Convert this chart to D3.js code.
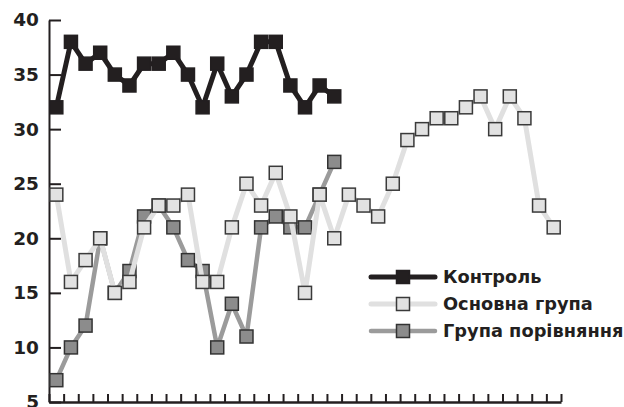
<!DOCTYPE html>
<html>
<head>
<meta charset="utf-8">
<script src="https://cdn.jsdelivr.net/npm/d3@7"></script>
<style>
  body { margin: 0; background: #fff; }
  svg { display: block; }
</style>
</head>
<body>
<div id="chart"></div>
<script>
// values, one per band
const seriesNames = ["Контроль", "Основна група", "Група порівняння"];
const control = [32, 38, 36, 37, 35, 34, 36, 36, 37, 35, 32, 36, 33, 35, 38, 38, 34, 32, 34, 33];
const mainGroup = [24, 16, 18, 20, 15, 16, 21, 23, 23, 24, 16, 16, 21, 25, 23, 26, 22, 15, 24, 20,
                   24, 23, 22, 25, 29, 30, 31, 31, 32, 33, 30, 33, 31, 23, 21];
const compGroup = [7, 10, 12, 20, 15, 17, 22, 23, 21, 18, 17, 10, 14, 11, 21, 22, 21, 21, 24, 27];
const yTicks = [5, 10, 15, 20, 25, 30, 35, 40];
const nBands = 35;

(function chart(){
    let width = 624, height = 407,
        margin = ({ top: 20, right: 63, bottom: 5, left: 49 });

    const svg = d3.select("#chart")
        .append("svg")
        .attr("width", width)
        .attr("height", height);

    // band edges -> x, points sit at the middle of a band
    const x = d3.scaleLinear()
        .domain([0, nBands])
        .range([margin.left, width - margin.right]);

    const y = d3.scaleLinear()
        .domain([5, 40])
        .range([height - margin.bottom, margin.top]);

    // y axis, ticks point inward
    const yAxis = svg.append("g")
        .attr("transform", `translate(${margin.left},0)`)
        .call(d3.axisLeft(y).tickValues(yTicks).tickSizeInner(-12).tickSizeOuter(0).tickPadding(10));
    yAxis.select(".domain").attr("stroke", "#231f20").attr("stroke-width", 2);
    yAxis.selectAll(".tick line").attr("stroke", "#231f20").attr("stroke-width", 2);
    yAxis.selectAll(".tick text")
        .attr("fill", "#231f20")
        .style("font-family", "'DejaVu Sans', sans-serif")
        .style("font-weight", "bold")
        .style("font-size", "18.5px");

    // x axis, small ticks on every band edge
    const xAxis = svg.append("g")
        .attr("transform", `translate(0,${height - margin.bottom})`)
        .call(d3.axisBottom(x).tickValues(d3.range(nBands + 1)).tickFormat("").tickSizeInner(-8).tickSizeOuter(0));
    xAxis.select(".domain").attr("stroke", "#231f20").attr("stroke-width", 2.5);
    xAxis.selectAll(".tick line").attr("stroke", "#231f20").attr("stroke-width", 2);

    const series = [
        { name: seriesNames[2], values: compGroup, line: "#9b9b9b", fill: "#8c8c8c", stroke: "#333", lw: 4.5, size: 13 },
        { name: seriesNames[1], values: mainGroup, line: "#e0e0e0", fill: "#e2e2e2", stroke: "#3a3a3a", lw: 5, size: 13 },
        { name: seriesNames[0], values: control, line: "#231f20", fill: "#231f20", stroke: "#231f20", lw: 5, size: 13 }
    ];

    const line = d3.line()
        .x((d, i) => x(i + 0.5))
        .y(d => y(d));

    for (let s of series) {
        const g = svg.append("g");
        g.append("path")
            .attr("d", line(s.values))
            .attr("fill", "none")
            .attr("stroke", s.line)
            .attr("stroke-width", s.lw)
            .attr("stroke-linejoin", "round");
        g.selectAll("rect")
            .data(s.values)
            .join("rect")
            .attr("x", (d, i) => x(i + 0.5) - s.size / 2)
            .attr("y", d => y(d) - s.size / 2)
            .attr("width", s.size)
            .attr("height", s.size)
            .attr("fill", s.fill)
            .attr("stroke", s.stroke)
            .attr("stroke-width", 1.5);
    }

    // legend
    const legend = svg.append("g");
    const legendItems = [series[2], series[1], series[0]];
    legendItems.forEach((s, i) => {
        const ly = 277 + i * 27;
        legend.append("line")
            .attr("x1", 371).attr("x2", 435)
            .attr("y1", ly).attr("y2", ly)
            .attr("stroke", s.line)
            .attr("stroke-width", s.lw)
            .attr("stroke-linecap", "round");
        legend.append("rect")
            .attr("x", 403 - s.size / 2).attr("y", ly - s.size / 2)
            .attr("width", s.size).attr("height", s.size)
            .attr("fill", s.fill)
            .attr("stroke", s.stroke)
            .attr("stroke-width", 1.5);
        legend.append("text")
            .attr("x", 443).attr("y", ly)
            .attr("dy", "0.35em")
            .attr("fill", "#231f20")
            .style("font-family", "'DejaVu Sans', sans-serif")
            .style("font-weight", "bold")
            .style("font-size", "17.8px")
            .text(s.name);
    });
})();
</script>
</body>
</html>
